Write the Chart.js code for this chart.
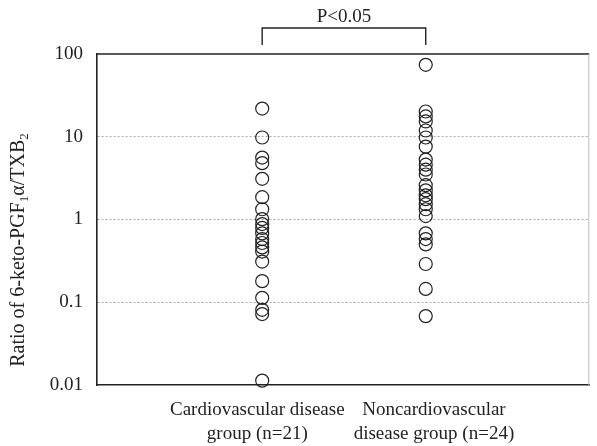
<!DOCTYPE html>
<html>
<head>
<meta charset="utf-8">
<script src="https://cdn.jsdelivr.net/npm/chart.js@4/dist/chart.umd.min.js"></script>
<style>
  html, body { margin: 0; padding: 0; background: #fff; }
  #wrap { width: 597px; height: 446px; }
</style>
</head>
<body>
<div id="wrap"><canvas id="grafico"></canvas></div>
<script>
// Datos
const grupos = [
  ["Cardiovascular disease", "group (n=21)"],
  ["Noncardiovascular", "disease group (n=24)"]
];
const cardioValores = [21.9, 9.8, 5.6, 4.8, 3.1, 1.86, 1.33, 1.01, 0.88, 0.79, 0.68,
  0.58, 0.52, 0.46, 0.41, 0.31, 0.18, 0.113, 0.081, 0.072, 0.0113];
const noCardioValores = [74, 20.2, 17.6, 15.3, 11.9, 9.8, 7.6, 5.3, 4.6, 4.0, 3.5, 2.6,
  2.25, 1.96, 1.76, 1.53, 1.33, 1.10, 0.68, 0.58, 0.50, 0.29, 0.145, 0.068];
const ticksY = [0.01, 0.1, 1, 10, 100];
const textoP = "P<0.05";

const fuente = "'Liberation Serif', 'Times New Roman', serif";
// las etiquetas del eje X no quedan justo bajo los puntos en el original
const posEtiquetas = [0.97, 2.05];

// Caja, corchete y titulo del eje Y
const extras = {
  id: "extras",
  afterDraw(chart) {
    const ctx = chart.ctx;
    const a = chart.chartArea;
    const x = chart.scales.x;
    ctx.save();
    // borde superior y derecho
    ctx.strokeStyle = "#222";
    ctx.lineWidth = 1.6;
    ctx.beginPath();
    ctx.moveTo(a.left, a.top);
    ctx.lineTo(a.right, a.top);
    ctx.stroke();
    ctx.strokeStyle = "#bbb";
    ctx.lineWidth = 1;
    ctx.beginPath();
    ctx.moveTo(a.right - 0.5, a.top);
    ctx.lineTo(a.right - 0.5, a.bottom);
    ctx.stroke();

    // corchete P<0.05
    const x1 = x.getPixelForValue(1);
    const x2 = x.getPixelForValue(2);
    ctx.strokeStyle = "#222";
    ctx.lineWidth = 1.4;
    ctx.beginPath();
    ctx.moveTo(x1, a.top - 9);
    ctx.lineTo(x1, a.top - 26);
    ctx.lineTo(x2, a.top - 26);
    ctx.lineTo(x2, a.top - 9);
    ctx.stroke();
    ctx.fillStyle = "#222";
    ctx.font = "19px " + fuente;
    ctx.textAlign = "center";
    ctx.textBaseline = "alphabetic";
    ctx.fillText(textoP, (x1 + x2) / 2, a.top - 32);

    // titulo eje Y con subindices
    const partes = [
      ["Ratio of 6-keto-PGF", false],
      ["1", true],
      ["\u03b1/TXB", false],
      ["2", true]
    ];
    const normal = "20px " + fuente;
    const sub = "13px " + fuente;
    let total = 0;
    partes.forEach(([t, s]) => {
      ctx.font = s ? sub : normal;
      total += ctx.measureText(t).width;
    });
    ctx.translate(24, 250);
    ctx.rotate(-Math.PI / 2);
    ctx.textAlign = "left";
    let px = -total / 2;
    partes.forEach(([t, s]) => {
      ctx.font = s ? sub : normal;
      ctx.fillText(t, px, s ? 4 : 0);
      px += ctx.measureText(t).width;
    });
    ctx.restore();
  }
};

const datos = {
  datasets: [
    {
      data: cardioValores.map((v) => ({ x: 1, y: v })),
    },
    {
      data: noCardioValores.map((v) => ({ x: 2, y: v })),
    }
  ].map((d) => Object.assign(d, {
    showLine: false,
    pointRadius: 6.5,
    pointHoverRadius: 6.5,
    pointBorderWidth: 1.2,
    pointBorderColor: "#222",
    pointBackgroundColor: "rgba(0,0,0,0)",
    clip: false
  }))
};

new Chart(document.getElementById("grafico"), {
  type: "scatter",
  data: datos,
  options: {
    responsive: true,
    maintainAspectRatio: false,
    animation: false,
    layout: { padding: { top: 54, right: 1, left: 0, bottom: 0 } },
    plugins: {
      legend: { display: false },
      tooltip: { enabled: false }
    },
    scales: {
      x: {
        type: "linear",
        min: -0.01,
        max: 3,
        afterBuildTicks: (axis) => { axis.ticks = posEtiquetas.map((v) => ({ value: v })); },
        afterFit: (axis) => { axis.height = 61; },
        ticks: {
          callback: (v, i) => grupos[i],
          color: "#222",
          font: { family: fuente, size: 19, lineHeight: 1.25 },
          padding: 13,
          maxRotation: 0,
          autoSkip: false
        },
        grid: { display: false, drawTicks: false },
        border: { color: "#222", width: 1.6 }
      },
      y: {
        type: "logarithmic",
        min: 0.01,
        max: 100,
        afterBuildTicks: (axis) => { axis.ticks = ticksY.map((v) => ({ value: v })); },
        afterFit: (axis) => { axis.width = 97; },
        ticks: {
          callback: (v) => String(v),
          color: "#222",
          font: { family: fuente, size: 19 },
          padding: 14
        },
        grid: {
          drawTicks: false,
          color: (c) => (c.tick && (c.tick.value === 100 || c.tick.value === 0.01)) ? "rgba(0,0,0,0)" : "#aaa",
          lineWidth: 1
        },
        border: { color: "#222", width: 1.6, dash: [2, 2] }
      }
    }
  },
  plugins: [extras]
});
</script>
</body>
</html>
